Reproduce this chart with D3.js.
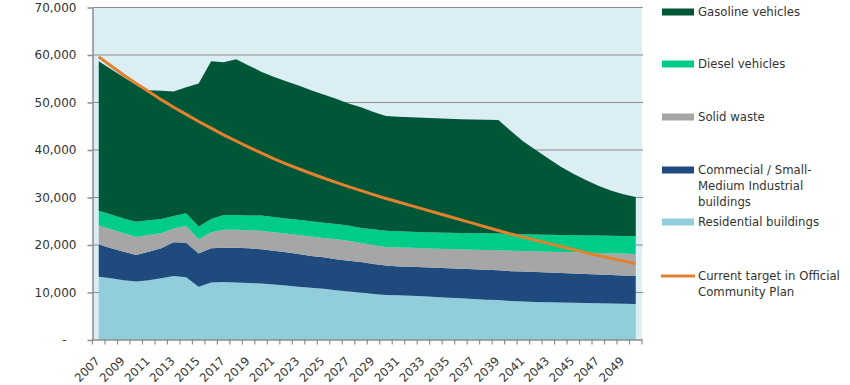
<!DOCTYPE html>
<html>
<head>
<meta charset="utf-8">
<script src="https://cdn.jsdelivr.net/npm/d3@7"></script>
<style>
  body { margin: 0; background: #fff; }
  text { font-family: "DejaVu Sans", Verdana, sans-serif; fill: #333; }
</style>
</head>
<body>
<div id="chart-area"></div>
<script>
// Data
var years = d3.range(2007, 2051);
var residential = [13300,13000,12600,12300,12600,13000,13500,13200,11200,12100,
  12200,12100,12000,11900,11700,11500,11200,11000,10800,10500,
  10200,10000,9700,9500,9400,9300,9200,9050,8900,8800,
  8650,8500,8400,8200,8100,8000,7950,7900,7850,7800,
  7750,7700,7650,7600];
var commercial = [6800,6300,6000,5600,6000,6300,7100,7300,7000,7200,
  7200,7300,7300,7200,7100,7000,6900,6700,6600,6500,
  6500,6400,6300,6200,6100,6100,6100,6150,6200,6200,
  6250,6300,6300,6300,6300,6300,6250,6200,6150,6100,
  6050,6000,5950,5900];
var solidWaste = [4000,4000,3900,3800,3500,3200,2900,3500,3000,3400,
  3800,3800,3800,3900,3900,3900,4000,4100,4100,4200,
  4200,4000,4000,3900,4000,4000,4000,4000,4050,4100,
  4100,4150,4200,4300,4350,4400,4400,4450,4500,4500,
  4500,4550,4600,4600];
var diesel = [3100,3100,3100,3200,3100,3000,2600,2700,2700,2800,
  3100,3100,3100,3200,3200,3200,3200,3200,3200,3200,
  3200,3200,3300,3400,3400,3400,3400,3450,3450,3450,
  3500,3500,3500,3500,3500,3500,3550,3550,3550,3600,
  3700,3700,3700,3800];
var gasoline = [31500,30600,29700,28800,27400,27000,26200,26500,30100,33200,
  32200,32800,31600,30300,29500,28900,28300,27600,27000,26400,
  25700,25400,24700,24150,24100,24100,24100,24050,24000,23950,
  23900,23900,23900,21700,19550,17800,16050,14400,12950,11700,
  10500,9550,8800,8200];
var target = [59600,57700,55800,54000,52300,50600,49000,47500,46000,44600,
  43200,41900,40600,39400,38200,37100,36050,35050,34100,33200,
  32300,31450,30600,29800,29050,28300,27550,26800,26050,25300,
  24550,23800,23050,22300,21650,21000,20350,19700,19050,18400,
  17800,17200,16650,16100];
var yTicks = [0,10000,20000,30000,40000,50000,60000,70000];

var seriesKeys = ["residential","commercial","solidWaste","diesel","gasoline"];
var colors = {residential:"#92cddc", commercial:"#1f4a7e", solidWaste:"#a6a6a6", diesel:"#00cc8a", gasoline:"#005737"};

var legendItems = [
  {key:"gasoline", lines:["Gasoline vehicles"], y:12},
  {key:"diesel", lines:["Diesel vehicles"], y:64},
  {key:"solidWaste", lines:["Solid waste"], y:117},
  {key:"commercial", lines:["Commecial / Small-","Medium Industrial","buildings"], y:170},
  {key:"residential", lines:["Residential buildings"], y:222},
  {key:"target", lines:["Current target in Official","Community Plan"], y:276}
];

var width = 850, height = 385;
var svg = d3.select("#chart-area").append("svg").attr("width", width).attr("height", height);

var plot = {left: 92.5, right: 642, top: 7.5, bottom: 340};

// Scales
var x = d3.scaleBand().domain(years).range([plot.left, plot.right]).padding(0);
var y = d3.scaleLinear().domain([0, 70000]).range([plot.bottom, plot.top]);
var cx = (d) => { return x(d) + x.bandwidth() / 2; };

// background
svg.append("rect").attr("x", plot.left).attr("y", plot.top)
  .attr("width", plot.right - plot.left).attr("height", plot.bottom - plot.top)
  .attr("fill", "#dbeef4");

// gridlines
svg.append("g").selectAll("line").data(yTicks.slice(1)).enter().append("line")
  .attr("x1", plot.left).attr("x2", plot.right + 1)
  .attr("y1", (d) => { return y(d); }).attr("y2", (d) => { return y(d); })
  .attr("stroke", "#8c8c8c").attr("stroke-width", 1.2);

// stacked areas
var table = years.map((yr, i) => {
  return {year: yr, residential: residential[i], commercial: commercial[i],
    solidWaste: solidWaste[i], diesel: diesel[i], gasoline: gasoline[i]};
});
var stack = d3.stack().keys(seriesKeys);
var area = d3.area().x((d) => { return cx(d.data.year); })
  .y0((d) => { return y(d[0]); }).y1((d) => { return y(d[1]); });

svg.append("g").selectAll("path").data(stack(table)).enter().append("path")
  .attr("d", area).attr("fill", (d) => { return colors[d.key]; });

// target line
var line = d3.line().x((d, i) => { return cx(years[i]); }).y((d) => { return y(d); });
svg.append("path").datum(target).attr("d", line)
  .attr("fill", "none").attr("stroke", "#e2822f").attr("stroke-width", 3);

// Axis
var yAxisCall = d3.axisLeft(y).tickValues(yTicks).tickSize(5).tickSizeOuter(0)
  .tickFormat((d) => { return d === 0 ? "-" : d3.format(",")(d); });
var yAxisGroup = svg.append("g").attr("transform", "translate(" + plot.left + ",0)").call(yAxisCall);
yAxisGroup.select(".domain").attr("stroke", "#8c8c8c").attr("stroke-width", 1.5);
yAxisGroup.selectAll(".tick line").attr("stroke", "#8c8c8c").attr("stroke-width", 1.5);
yAxisGroup.selectAll(".tick text").attr("x", -16).attr("font-size", "12px")
  .style("font-family", "DejaVu Sans").style("fill", "#333");
yAxisGroup.selectAll(".tick text").filter((d) => { return d === 0; }).attr("x", -26);

var xAxisGroup = svg.append("g").attr("transform", "translate(0," + plot.bottom + ")");
xAxisGroup.append("line").attr("x1", plot.left).attr("x2", plot.right)
  .attr("stroke", "#8c8c8c").attr("stroke-width", 1.5);
var bounds = years.map((d) => { return x(d); }).concat([plot.right]);
xAxisGroup.selectAll(".xtick").data(bounds).enter().append("line").attr("class", "xtick")
  .attr("x1", (d) => { return d; }).attr("x2", (d) => { return d; })
  .attr("y1", -1).attr("y2", 4.5).attr("stroke", "#8c8c8c").attr("stroke-width", 1.2);
xAxisGroup.selectAll(".xlabel").data(years.filter((d, i) => { return i % 2 === 0; })).enter()
  .append("text").attr("class", "xlabel")
  .attr("transform", (d) => { return "translate(" + (cx(d) - 4) + ",16) rotate(-45)"; })
  .attr("text-anchor", "end").attr("dy", "0.7em").attr("font-size", "11.7px")
  .text((d) => { return d; });

// Legend
var legend = svg.append("g");
legendItems.forEach((item) => {
  if (item.key === "target") {
    legend.append("line").attr("x1", 661).attr("x2", 695).attr("y1", item.y).attr("y2", item.y)
      .attr("stroke", "#e2822f").attr("stroke-width", 3);
  } else {
    legend.append("rect").attr("x", 662).attr("y", item.y - 3.5).attr("width", 32).attr("height", 7)
      .attr("fill", colors[item.key]);
  }
  item.lines.forEach((t, j) => {
    legend.append("text").attr("x", 698).attr("y", item.y + j * 16).attr("dy", "0.36em")
      .attr("font-size", "11.7px").text(t);
  });
});
</script>
</body>
</html>
